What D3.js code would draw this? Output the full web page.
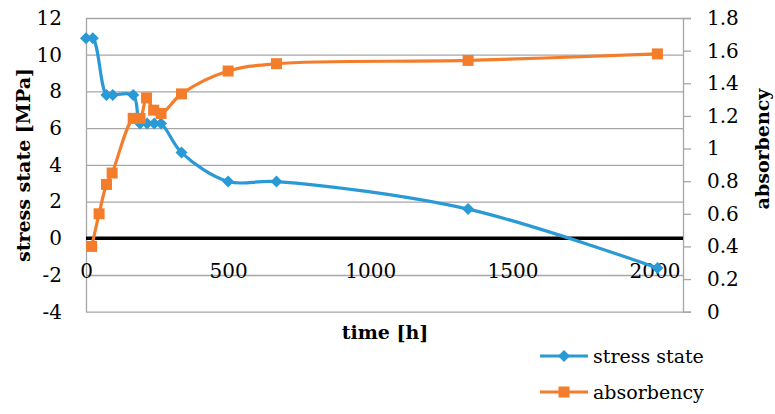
<!DOCTYPE html>
<html>
<head>
<meta charset="utf-8">
<script src="https://cdn.jsdelivr.net/npm/d3@7"></script>
<style>
  body { margin: 0; background: #fff; }
  text { font-family: "DejaVu Serif", serif; fill: #000; }
</style>
</head>
<body>
<div id="chart"></div>
<script>
// data
var timeStress = [0, 24, 72, 94, 166, 190, 215, 240, 264, 336, 500, 670, 1344, 2010];
var stress = [10.9, 10.9, 7.8, 7.8, 7.8, 6.25, 6.25, 6.25, 6.25, 4.67, 3.09, 3.09, 1.59, -1.62];
var timeAbs = [20, 46, 72, 92, 166, 190, 213, 238, 264, 336, 500, 670, 1344, 2010];
var absorb = [0.40, 0.60, 0.78, 0.85, 1.185, 1.185, 1.31, 1.235, 1.215, 1.335, 1.475, 1.52, 1.54, 1.58];
var leftTicks = [-4, -2, 0, 2, 4, 6, 8, 10, 12];
var rightTicks = [0, 0.2, 0.4, 0.6, 0.8, 1, 1.2, 1.4, 1.6, 1.8];
var xTicks = [0, 500, 1000, 1500, 2000];

var svgWidth = 775;
var svgHeight = 414;
var plotLeft = 86, plotRight = 683, plotTop = 18, plotBottom = 311.7;

var blue = '#2a9ad6';
var orange = '#f47d2c';
var serif = '"DejaVu Serif", serif';

var svg = d3.select('#chart')
    .append('svg')
    .attr('width', svgWidth)
    .attr('height', svgHeight);

var x = d3.scaleLinear().domain([0, 2100]).range([plotLeft, plotRight]);
var yL = d3.scaleLinear().domain([-4, 12]).range([plotBottom, plotTop]);
var yR = d3.scaleLinear().domain([0, 1.8]).range([plotBottom, plotTop]);

// gridlines
svg.append('g')
    .attr('transform', `translate(${plotLeft}, 0)`)
    .call(d3.axisLeft(yL).tickValues(leftTicks).tickSize(-(plotRight - plotLeft)).tickFormat(''))
    .call(g => g.select('.domain').remove())
    .call(g => g.selectAll('line').attr('stroke', '#a6a6a6').attr('stroke-width', 1.3));

// left axis labels
svg.append('g')
    .attr('transform', `translate(${plotLeft}, 0)`)
    .call(d3.axisLeft(yL).tickValues(leftTicks).tickSize(0).tickPadding(24).tickFormat(d => String(d)))
    .call(g => g.select('.domain').attr('stroke', '#a6a6a6').attr('stroke-width', 1.3))
    .call(g => g.selectAll('text').style('font-size', '20px').style('font-family', serif));

// right axis
svg.append('g')
    .attr('transform', `translate(${plotRight}, 0)`)
    .call(d3.axisRight(yR).tickValues(rightTicks).tickSize(8).tickPadding(16).tickFormat(d => d === 0 || d === 1 ? String(d) : d.toFixed(1)))
    .call(g => g.select('.domain').attr('stroke', '#a6a6a6').attr('stroke-width', 1.3))
    .call(g => g.selectAll('line').attr('stroke', '#a6a6a6').attr('stroke-width', 1.3))
    .call(g => g.selectAll('text').style('font-size', '20px').style('font-family', serif));

// zero line
svg.append('line')
    .attr('x1', plotLeft).attr('x2', plotRight)
    .attr('y1', yL(0)).attr('y2', yL(0))
    .attr('stroke', '#000').attr('stroke-width', 3.5);

// x axis labels (sit below zero line)
svg.append('g')
    .attr('transform', `translate(0, ${yL(0)})`)
    .call(d3.axisBottom(x).tickValues(xTicks).tickSize(0).tickPadding(26).tickFormat(d => String(d)))
    .call(g => g.select('.domain').remove())
    .call(g => g.selectAll('text').style('font-size', '20px').style('font-family', serif));

var stressData = timeStress.map((t, i) => [t, stress[i]]);
var absData = timeAbs.map((t, i) => [t, absorb[i]]);

var diamond = 'M0,-6L6,0L0,6L-6,0Z';
var square = 'M-5.5,-5.5H5.5V5.5H-5.5Z';

var lineL = d3.line().x(d => x(d[0])).y(d => yL(d[1])).curve(d3.curveCatmullRom);
var lineR = d3.line().x(d => x(d[0])).y(d => yR(d[1])).curve(d3.curveCatmullRom);

svg.append('path')
    .datum(stressData)
    .attr('d', lineL)
    .attr('fill', 'none')
    .attr('stroke', blue)
    .attr('stroke-width', 3.2);

svg.selectAll('path.dia')
    .data(stressData)
    .enter()
    .append('path')
    .attr('class', 'dia')
    .attr('d', diamond)
    .attr('transform', d => `translate(${x(d[0])}, ${yL(d[1])})`)
    .attr('fill', blue);

svg.append('path')
    .datum(absData)
    .attr('d', lineR)
    .attr('fill', 'none')
    .attr('stroke', orange)
    .attr('stroke-width', 3.2);

svg.selectAll('path.sq')
    .data(absData)
    .enter()
    .append('path')
    .attr('class', 'sq')
    .attr('d', square)
    .attr('transform', d => `translate(${x(d[0])}, ${yR(d[1])})`)
    .attr('fill', orange);

// axis titles
svg.append('text')
    .attr('transform', `translate(30, 165) rotate(-90)`)
    .attr('text-anchor', 'middle')
    .style('font-family', serif)
    .style('font-size', '19px')
    .style('font-weight', 'bold')
    .text('stress state [MPa]');

svg.append('text')
    .attr('transform', `translate(769, 149) rotate(-90)`)
    .attr('text-anchor', 'middle')
    .style('font-family', serif)
    .style('font-size', '19px')
    .style('font-weight', 'bold')
    .text('absorbency');

svg.append('text')
    .attr('x', 385)
    .attr('y', 339)
    .attr('text-anchor', 'middle')
    .style('font-family', serif)
    .style('font-size', '19px')
    .style('font-weight', 'bold')
    .text('time [h]');

// legend
var legend = [
    { name: 'stress state', color: blue, shape: diamond, y: 356 },
    { name: 'absorbency', color: orange, shape: square, y: 392 }
];
var lg = svg.selectAll('g.legend')
    .data(legend)
    .enter()
    .append('g')
    .attr('class', 'legend')
    .attr('transform', d => `translate(0, ${d.y})`);
lg.append('line')
    .attr('x1', 540).attr('x2', 588)
    .attr('stroke', d => d.color)
    .attr('stroke-width', 3.2);
lg.append('path')
    .attr('d', d => d.shape)
    .attr('transform', 'translate(564, 0)')
    .attr('fill', d => d.color);
lg.append('text')
    .attr('x', 593)
    .attr('y', 7)
    .style('font-family', serif)
    .style('font-size', '19px')
    .text(d => d.name);
</script>
</body>
</html>
